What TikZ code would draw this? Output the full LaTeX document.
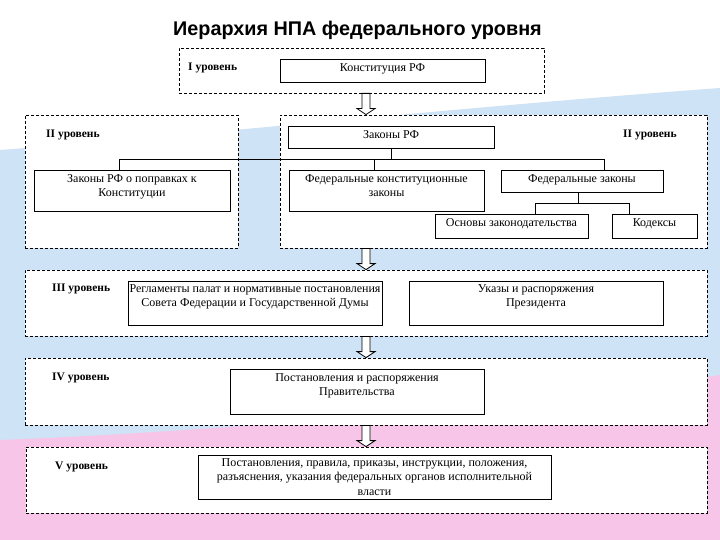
\documentclass[tikz,border=0pt]{standalone}
\usepackage{fontspec}
\setmainfont{Liberation Serif}
\newfontfamily\titlefont{Liberation Sans}
\usetikzlibrary{calc}
\definecolor{bgblue}{RGB}{206,227,245}
\definecolor{bgpink}{RGB}{247,197,232}
\tikzset{
  lvl/.style={draw, dash pattern=on 3pt off 2pt, fill=white, inner sep=0pt, line width=0.8pt},
  box/.style={draw, fill=white, inner sep=0pt, line width=0.8pt},
  txt/.style={anchor=north, inner sep=0pt, align=center, font=\fontsize{12}{14.5}\selectfont, yshift=-4.5pt},
  lab/.style={anchor=west, inner sep=0pt, font=\bfseries\fontsize{11.5}{13}\selectfont},
  tree/.style={line width=0.8pt},
  blk/.style={draw, fill=white, line width=0.8pt}
}
\newcommand{\blkarrow}[2]{\draw[blk] let \p1=(#1), \p2=(#2) in
  (\x1-4pt,\y1) -- (\x1+4pt,\y1) -- (\x1+4pt,\y2+6pt) -- (\x1+9pt,\y2+6pt) -- (\x1,\y2)
  -- (\x1-9pt,\y2+6pt) -- (\x1-4pt,\y2+6pt) -- cycle;}
\begin{document}
\begin{tikzpicture}[x=1pt,y=-1pt]
\useasboundingbox (0,0) rectangle (720,540);
% background
\fill[white] (0,0) rectangle (720,540);
\fill[bgblue] (0,150) .. controls (200,135) and (450,108) .. (720,88) -- (720,540) -- (0,540) -- cycle;
\fill[bgpink] (0,440) .. controls (250,430) and (500,405) .. (720,375) -- (720,540) -- (0,540) -- cycle;

% title
\node[anchor=base, inner sep=0pt, font=\titlefont\bfseries\fontsize{19.8}{23}\selectfont] (title) at (357.5,36) {Иерархия НПА федерального уровня};

% level I
\node[lvl, minimum width=365pt, minimum height=45pt] (lvl1) at (361.5,70.5) {};
\node[lab] (lab1) at (188,68) {I уровень};
\node[box, minimum width=205pt, minimum height=23pt, label={[txt]north:Конституция РФ}] (konst) at (382.5,70.5) {};

% level II
\node[lvl, minimum width=213pt, minimum height=133pt] (lvl2a) at (131.5,181.5) {};
\node[lvl, minimum width=427pt, minimum height=133pt] (lvl2b) at (493.5,181.5) {};
\node[lab] (lab2a) at (46,135) {II уровень};
\node[lab] (lab2b) at (623,135) {II уровень};
\node[box, minimum width=206pt, minimum height=22pt, label={[txt]north:Законы РФ}] (zak) at (391,137) {};
\node[box, minimum width=196pt, minimum height=41pt, label={[txt]north:{Законы РФ о поправках к\\Конституции}}] (popr) at (132,190.5) {};
\node[box, minimum width=195pt, minimum height=41pt, label={[txt]north:{Федеральные конституционные\\законы}}] (fkz) at (386.5,190.5) {};
\node[box, minimum width=162pt, minimum height=22pt, label={[txt]north:Федеральные законы}] (fz) at (582,181) {};
\node[box, minimum width=153pt, minimum height=24pt, label={[txt]north:Основы законодательства}] (osn) at (511.5,226) {};
\node[box, minimum width=85pt, minimum height=24pt, label={[txt]north:Кодексы}] (kod) at (654.5,226) {};

% level III
\node[lvl, minimum width=682pt, minimum height=66pt] (lvl3) at (366,303) {};
\node[lab] (lab3) at (52,289) {III уровень};
\node[box, minimum width=254pt, minimum height=44pt, label={[txt,yshift=1pt]north:{Регламенты палат и нормативные постановления\\Совета Федерации и Государственной Думы}}] (regl) at (255,303) {};
\node[box, minimum width=254pt, minimum height=44pt, label={[txt,yshift=1pt]north:{Указы и распоряжения\\Президента}}] (ukaz) at (536,303) {};

% level IV
\node[lvl, minimum width=682pt, minimum height=67pt] (lvl4) at (366,391.5) {};
\node[lab] (lab4) at (52,378) {IV уровень};
\node[box, minimum width=254pt, minimum height=45pt, label={[txt]north:{Постановления и распоряжения\\Правительства}}] (prav) at (357,391.5) {};

% level V
\node[lvl, minimum width=681pt, minimum height=66pt] (lvl5) at (366.5,480) {};
\node[lab] (lab5) at (55,467) {V уровень};
\node[box, minimum width=353pt, minimum height=44pt, label={[txt,yshift=1pt]north:{Постановления, правила, приказы, инструкции, положения,\\разъяснения, указания федеральных органов исполнительной\\власти}}] (fed) at (374.5,477) {};

% tree connectors level II
\coordinate (bus) at ($(zak.south)+(0,11.5)$);
\coordinate (busL) at (119,159.5);
\coordinate (busM) at (374,159.5);
\coordinate (busR) at (604,159.5);
\draw[tree] (zak.south) -- (bus);
\draw[tree] (busL) -- (busR);
\draw[tree] (busL) -- (busL |- popr.north);
\draw[tree] (busM) -- (busM |- fkz.north);
\draw[tree] (busR) -- (busR |- fz.north);
\coordinate (fzdrop) at ($(fz.south)+(-3.5,0)$);
\coordinate (sub) at ($(fz.south)+(-3.5,11)$);
\coordinate (subL) at (535,203);
\coordinate (subR) at (629,203);
\draw[tree] (fzdrop) -- (sub);
\draw[tree] (subL) -- (subR);
\draw[tree] (subL) -- (subL |- osn.north);
\draw[tree] (subR) -- (subR |- kod.north);

% block arrows between levels
\coordinate (ax) at (366,0);
\blkarrow{lvl1.south -| ax}{lvl2b.north -| ax}
\blkarrow{lvl2b.south -| ax}{lvl3.north -| ax}
\blkarrow{lvl3.south -| ax}{lvl4.north -| ax}
\blkarrow{lvl4.south -| ax}{lvl5.north -| ax}
\end{tikzpicture}
\end{document}
